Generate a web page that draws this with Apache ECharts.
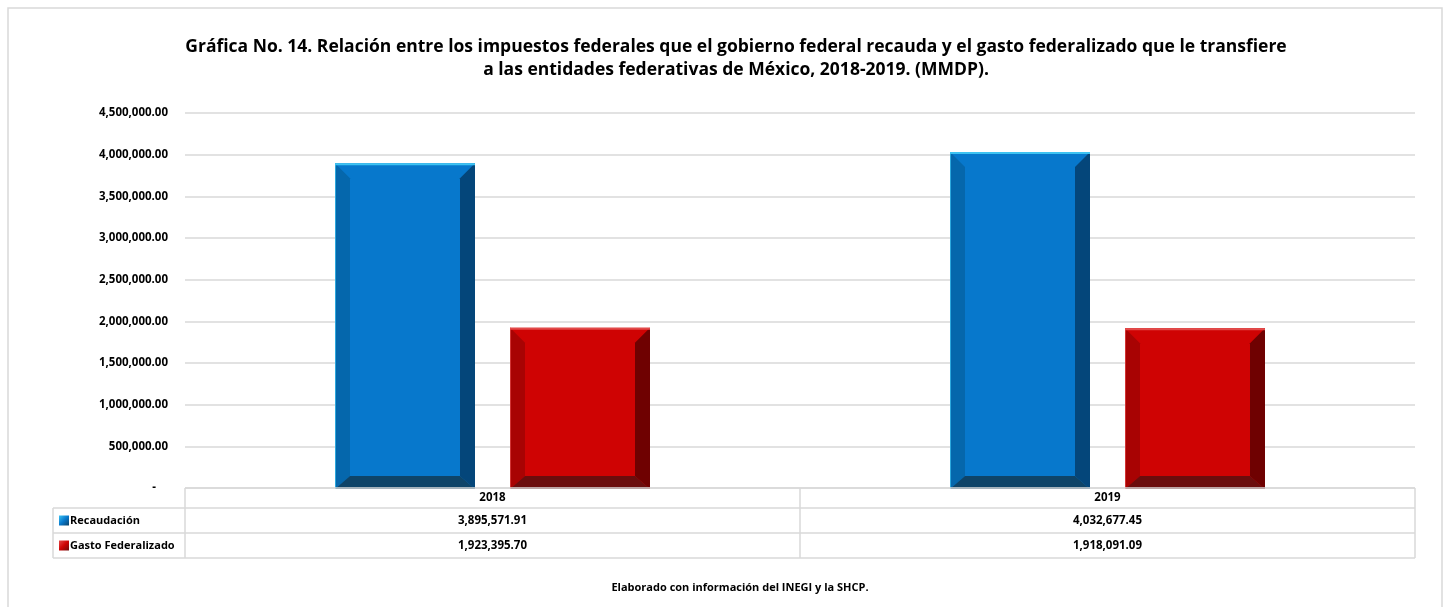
<!DOCTYPE html>
<html>
<head>
<meta charset="utf-8">
<script src="https://cdn.jsdelivr.net/npm/echarts@6/dist/echarts.min.js"></script>
<style>
  html, body { margin: 0; padding: 0; background: #fff; }
  #chart { width: 1449px; height: 607px; }
</style>
</head>
<body>
<div id="chart"></div>
<script>
const years = ['2018', '2019'];
const seriesNames = ['Recaudación', 'Gasto Federalizado'];
const recaudacion = [3895571.91, 4032677.45];
const gastoFederalizado = [1923395.70, 1918091.09];
const yMin = 0, yMax = 4500000, yStep = 500000;

const font = 'Open Sans';
// face, left bevel, right bevel, bottom bevel, top edge
const palettes = [
    ['#0778CC', '#0567AC', '#04467A', '#0E4468', '#3DC3F2'],
    ['#CF0303', '#A80303', '#6F0101', '#6B0D0D', '#E24A4A']
];

const fmt = (v) => v.toLocaleString('en-US', {minimumFractionDigits: 2, maximumFractionDigits: 2});

const chart = echarts.init(document.getElementById('chart'));

function bevelBar(seriesIdx) {
    const pal = palettes[seriesIdx];
    return function (params, api) {
        const cat = api.value(0);
        const top = api.coord([cat, api.value(1)]);
        const base = api.coord([cat, 0]);
        const band = api.size([1, 0])[0];
        const w = band * 140 / 615;
        const gap = band * 35 / 615;
        const cx = top[0] + (seriesIdx === 0 ? -(w + gap) / 2 : (w + gap) / 2);
        const x0 = cx - w / 2, x1 = cx + w / 2;
        const y0 = top[1], y1 = base[1] + 1;
        const b = 15, bb = 13;
        return {
            type: 'group',
            children: [
                {type: 'rect', shape: {x: x0, y: y0, width: w, height: y1 - y0}, style: {fill: pal[0]}},
                {type: 'polygon', shape: {points: [[x0, y0], [x0 + b, y0 + b], [x0 + b, y1 - bb], [x0, y1]]}, style: {fill: pal[1]}},
                {type: 'polygon', shape: {points: [[x1, y0], [x1 - b, y0 + b], [x1 - b, y1 - bb], [x1, y1]]}, style: {fill: pal[2]}},
                {type: 'polygon', shape: {points: [[x0, y1], [x0 + b, y1 - bb], [x1 - b, y1 - bb], [x1, y1]]}, style: {fill: pal[3]}},
                {type: 'rect', shape: {x: x0, y: y0, width: w, height: 2}, style: {fill: pal[4]}},
                {type: 'rect', shape: {x: x0, y: y0, width: 1, height: y1 - y0}, style: {fill: pal[4], opacity: 0.7}}
            ]
        };
    };
}

// data table under the axis
const tblLeft = 53, axisLeft = 185, tblRight = 1415, midX = 800;
const rowY = [488, 508, 533, 558];
const lineStyle = {stroke: '#D9D9D9', lineWidth: 1.5};
const tableGraphics = [];
function hline(x1, x2, y) { tableGraphics.push({type: 'line', shape: {x1: x1, y1: y, x2: x2, y2: y}, style: lineStyle, z: 5}); }
function vline(x, y1, y2) { tableGraphics.push({type: 'line', shape: {x1: x, y1: y1, x2: x, y2: y2}, style: lineStyle, z: 5}); }
hline(axisLeft, tblRight, rowY[0]);
hline(tblLeft, tblRight, rowY[1]);
hline(tblLeft, tblRight, rowY[2]);
hline(tblLeft, tblRight, rowY[3]);
vline(tblLeft, rowY[1], rowY[3]);
vline(axisLeft, rowY[0], rowY[3]);
vline(midX, rowY[0], rowY[3]);
vline(tblRight, rowY[0], rowY[3]);

const cellFont = {fontFamily: font, fontWeight: 'bold', fontSize: 11.5, fill: '#000'};
const colCenters = [(axisLeft + midX) / 2, (midX + tblRight) / 2];
years.forEach((y, i) => {
    tableGraphics.push({type: 'text', x: colCenters[i], y: (rowY[0] + rowY[1]) / 2,
        style: Object.assign({text: y, align: 'center', verticalAlign: 'middle'}, cellFont), z: 6});
});
[recaudacion, gastoFederalizado].forEach((vals, r) => {
    const cy = (rowY[r + 1] + rowY[r + 2]) / 2;
    tableGraphics.push({type: 'text', x: 70, y: cy,
        style: Object.assign({text: seriesNames[r], align: 'left', verticalAlign: 'middle'}, cellFont, {fontSize: 11}), z: 6});
    tableGraphics.push({type: 'rect', shape: {x: 59, y: cy - 5, width: 10, height: 10},
        style: {fill: new echarts.graphic.LinearGradient(0, 0, 1, 1, [
            {offset: 0, color: palettes[r][4]}, {offset: 0.5, color: palettes[r][0]}, {offset: 1, color: palettes[r][3]}])}, z: 6});
    vals.forEach((v, i) => {
        tableGraphics.push({type: 'text', x: colCenters[i], y: cy,
            style: Object.assign({text: fmt(v), align: 'center', verticalAlign: 'middle'}, cellFont), z: 6});
    });
});

const option = {
    backgroundColor: '#fff',
    animation: false,
    title: {
        text: 'Gráfica No. 14. Relación entre los impuestos federales que el gobierno federal recauda y el gasto federalizado que le transfiere\na las entidades federativas de México, 2018-2019. (MMDP).',
        left: 731,
        top: 31,
        textAlign: 'center',
        textStyle: {fontFamily: font, fontWeight: 'bold', fontSize: 17.5, lineHeight: 23, color: '#000'}
    },
    grid: {left: axisLeft, right: 1449 - tblRight, top: 113, bottom: 607 - 488},
    xAxis: {
        type: 'category',
        data: years,
        axisLine: {show: false},
        axisTick: {show: false},
        axisLabel: {show: false}
    },
    yAxis: {
        type: 'value',
        min: yMin,
        max: yMax,
        interval: yStep,
        axisLine: {show: false},
        axisTick: {show: false},
        splitLine: {lineStyle: {color: '#D9D9D9', width: 1.5}},
        axisLabel: {
            margin: 17,
            fontFamily: font,
            fontWeight: 'bold',
            fontSize: 11.5,
            color: '#000',
            formatter: (v) => v === 0 ? '-    ' : fmt(v)
        }
    },
    series: [
        {name: seriesNames[0], type: 'custom', renderItem: bevelBar(0), z: 3,
            data: recaudacion.map((v, i) => [i, v])},
        {name: seriesNames[1], type: 'custom', renderItem: bevelBar(1), z: 3,
            data: gastoFederalizado.map((v, i) => [i, v])}
    ],
    graphic: [
        {type: 'rect', shape: {x: 8, y: 8, width: 1434, height: 640},
            style: {fill: 'none', stroke: '#D9D9D9', lineWidth: 1.5}, z: 1, silent: true},
        {type: 'text', x: 740, y: 588,
            style: {text: 'Elaborado con información del INEGI y la SHCP.', align: 'center', verticalAlign: 'middle',
                fontFamily: font, fontWeight: 'bold', fontSize: 11, fill: '#000'}}
    ].concat(tableGraphics)
};

chart.setOption(option);
</script>
</body>
</html>
